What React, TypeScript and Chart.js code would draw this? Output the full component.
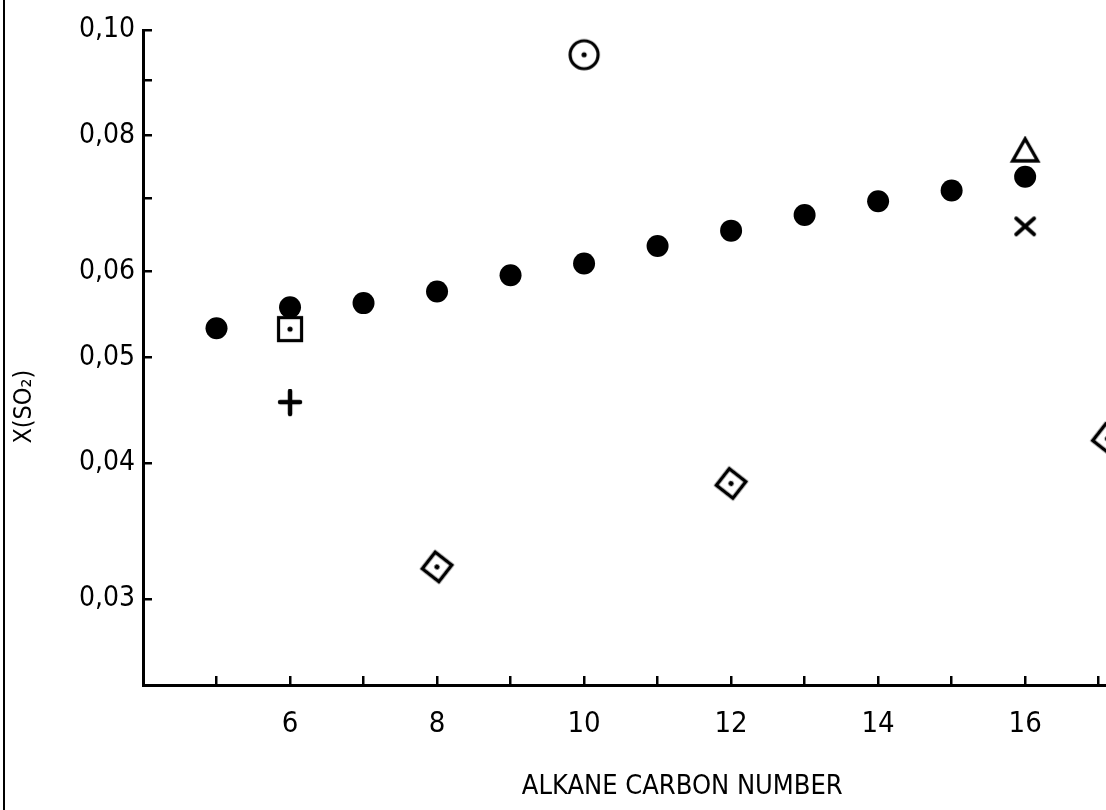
import React, { useEffect, useRef } from "react";
import { Chart, registerables } from "chart.js";

Chart.register(...registerables);

// ---- data ----
const carbonNumbers = [5, 6, 7, 8, 9, 10, 11, 12, 13, 14, 15, 16];
const alkaneSolubility = [0.0532, 0.0556, 0.0561, 0.0575, 0.0595, 0.061, 0.0633, 0.0654, 0.0676, 0.0696, 0.0712, 0.0733];

const squareX = [6];
const squareY = [0.0531];
const plusX = [6];
const plusY = [0.0454];
const ringX = [10];
const ringY = [0.0949];
const triangleX = [16];
const triangleY = [0.0776];
const crossX = [16];
const crossY = [0.066];
const diamondX = [8, 12, 17.12];
const diamondY = [0.0321, 0.0383, 0.0421];

const xTickValues = [5, 6, 7, 8, 9, 10, 11, 12, 13, 14, 15, 16, 17];
const xTickLabels = ["", "6", "", "8", "", "10", "", "12", "", "14", "", "16", ""];
const yTickValues = [0.03, 0.04, 0.05, 0.06, 0.07, 0.08, 0.09, 0.1];
const yTickLabels = ["0,03", "0,04", "0,05", "0,06", "", "0,08", "", "0,10"];

const xTitle = "ALKANE CARBON NUMBER";
const yTitle = "X(SO₂)";

const FONT = "'Liberation Sans Narrow', 'DejaVu Sans Condensed', 'Liberation Sans', sans-serif";

function makeMarker(w: number, h: number, draw: (ctx: CanvasRenderingContext2D) => void) {
  const c = document.createElement("canvas");
  c.width = w;
  c.height = h;
  const ctx = c.getContext("2d")!;
  ctx.strokeStyle = "#000";
  ctx.fillStyle = "#000";
  ctx.lineCap = "round";
  ctx.lineJoin = "round";
  draw(ctx);
  return c;
}

function dot(ctx: CanvasRenderingContext2D, x: number, y: number, r: number) {
  ctx.beginPath();
  ctx.arc(x, y, r, 0, Math.PI * 2);
  ctx.fill();
}

const titlesPlugin = {
  id: "axisCaptions",
  afterDraw(chart: any) {
    const { ctx, chartArea } = chart;
    const w = chartArea.right - chartArea.left;
    const h = chartArea.bottom - chartArea.top;
    ctx.save();
    ctx.fillStyle = "#000";
    ctx.textAlign = "center";
    ctx.textBaseline = "middle";
    ctx.font = `27px ${FONT}`;
    ctx.fillText(xTitle, chartArea.left + w * 0.56, chartArea.bottom + 102);
    ctx.translate(chartArea.left - 119, chartArea.top + h * 0.575);
    ctx.rotate(-Math.PI / 2);
    ctx.font = `25px ${FONT}`;
    ctx.fillText(yTitle, 0, 0);
    ctx.restore();
  },
};

const noScalePadding = (s: any) => {
  s.paddingTop = 0;
  s.paddingBottom = 0;
  s.paddingLeft = 0;
  s.paddingRight = 0;
};

export default function App() {
  const canvasRef = useRef<HTMLCanvasElement | null>(null);

  useEffect(() => {
    const ring = makeMarker(34, 34, (c) => {
      c.lineWidth = 3.2;
      c.beginPath();
      c.arc(17, 17, 14, 0, Math.PI * 2);
      c.stroke();
      dot(c, 17, 17, 2.6);
    });
    const square = makeMarker(30, 30, (c) => {
      c.lineWidth = 3.2;
      c.lineJoin = "miter";
      c.strokeRect(3.5, 3.5, 23, 23);
      dot(c, 15, 15, 2.6);
    });
    const diamond = makeMarker(30, 30, (c) => {
      c.lineWidth = 3.6;
      c.lineJoin = "miter";
      c.strokeRect(4.5, 4.5, 21, 21);
      dot(c, 15, 15, 2.6);
    });
    const triangle = makeMarker(32, 28, (c) => {
      c.lineWidth = 3.4;
      c.lineJoin = "miter";
      c.beginPath();
      c.moveTo(16, 3);
      c.lineTo(28.5, 25);
      c.lineTo(3.5, 25);
      c.closePath();
      c.stroke();
    });
    const cross = makeMarker(26, 24, (c) => {
      c.lineWidth = 3.8;
      c.beginPath();
      c.moveTo(4, 4);
      c.lineTo(22, 20);
      c.moveTo(22, 4);
      c.lineTo(4, 20);
      c.stroke();
    });
    const plus = makeMarker(26, 28, (c) => {
      c.lineWidth = 4.5;
      c.beginPath();
      c.moveTo(3, 13);
      c.lineTo(23, 13);
      c.moveTo(13, 2);
      c.lineTo(13, 25);
      c.stroke();
    });

    const pts = (xs: number[], ys: number[]) => xs.map((x, i) => ({ x, y: ys[i] }));

    const imgSet = (label: string, xs: number[], ys: number[], style: HTMLCanvasElement, rotation = 0) => ({
      label,
      data: pts(xs, ys),
      pointStyle: style,
      pointRadius: 12,
      pointRotation: rotation,
      showLine: false,
      clip: false as any,
    });

    const chart = new Chart(canvasRef.current!, {
      type: "scatter",
      data: {
        datasets: [
          {
            label: "n-alkanes",
            data: pts(carbonNumbers, alkaneSolubility),
            pointStyle: "circle",
            pointRadius: 11,
            borderWidth: 0,
            backgroundColor: "#000",
            borderColor: "#000",
            showLine: false,
            clip: false as any,
          },
          imgSet("square", squareX, squareY, square),
          imgSet("plus", plusX, plusY, plus),
          imgSet("ring", ringX, ringY, ring),
          imgSet("triangle", triangleX, triangleY, triangle),
          imgSet("cross", crossX, crossY, cross),
          imgSet("diamond", diamondX, diamondY, diamond, 38),
        ],
      },
      options: {
        animation: false,
        responsive: false,
        events: [],
        layout: { autoPadding: false, padding: { top: 30, left: 0, right: 0, bottom: 0 } },
        plugins: { legend: { display: false }, tooltip: { enabled: false } },
        scales: {
          x: {
            type: "linear",
            position: "bottom",
            min: 4,
            max: 17.1,
            afterBuildTicks: (s: any) => {
              s.ticks = xTickValues.map((v) => ({ value: v }));
            },
            afterFit: (s: any) => {
              s.height = 125;
              noScalePadding(s);
            },
            ticks: {
              autoSkip: false,
              maxRotation: 0,
              color: "#000",
              padding: 31,
              font: { family: FONT, size: 29 },
              callback: (_v: any, i: number) => xTickLabels[i],
            },
            grid: { drawOnChartArea: false, drawTicks: true, tickLength: -9, color: "#000", lineWidth: 2.5 },
            border: { display: true, color: "#000", width: 3 },
          },
          y: {
            type: "logarithmic",
            position: "left",
            min: 0.025,
            max: 0.1,
            afterBuildTicks: (s: any) => {
              s.ticks = yTickValues.map((v) => ({ value: v }));
            },
            afterFit: (s: any) => {
              s.width = 143;
              noScalePadding(s);
            },
            ticks: {
              autoSkip: false,
              color: "#000",
              padding: 17,
              font: { family: FONT, size: 28 },
              callback: (_v: any, i: number) => yTickLabels[i],
            },
            grid: { drawOnChartArea: false, drawTicks: true, tickLength: -9, color: "#000", lineWidth: 2.5 },
            border: { display: true, color: "#000", width: 3 },
          },
        },
      },
      plugins: [titlesPlugin],
    });
    return () => chart.destroy();
  }, []);

  return (
    <div style={{ position: "fixed", left: 0, top: 0, width: 1106, height: 810, background: "#fff", overflow: "hidden" }}>
      <div style={{ position: "absolute", left: 3, top: 0, width: 2, height: 810, background: "#000" }} />
      <canvas ref={canvasRef} width={1106} height={810} style={{ display: "block", width: 1106, height: 810 }} />
    </div>
  );
}
